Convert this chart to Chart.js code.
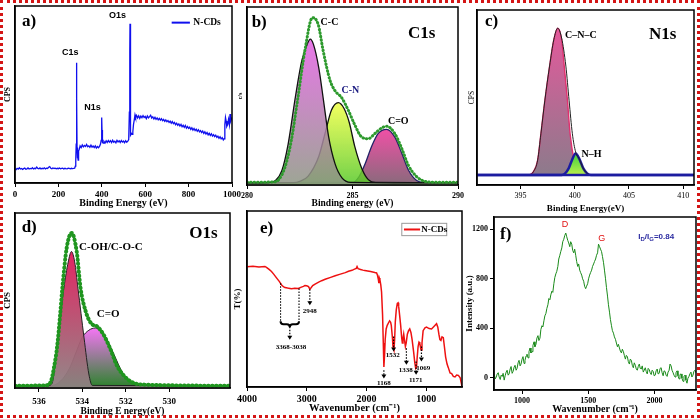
<!DOCTYPE html>
<html><head><meta charset="utf-8">
<script src="https://cdn.jsdelivr.net/npm/chart.js@4.4.1/dist/chart.umd.min.js"></script>
<style>
html,body{margin:0;padding:0;background:#fff;}
#wrap{position:relative;width:700px;height:419px;overflow:hidden;background:#fff;}
canvas{position:absolute;}
#border{position:absolute;left:0;top:0;width:700px;height:418px;box-sizing:border-box;border:3px dotted #d41515;pointer-events:none;}
</style></head><body>
<div id="wrap">
<canvas id="ca"></canvas><canvas id="cb"></canvas><canvas id="cc"></canvas>
<canvas id="cd"></canvas><canvas id="ce"></canvas><canvas id="cf"></canvas>
<div id="border"></div>
</div>
<script>
// ================= DATA =================
// a) XPS survey
const aTicks = [0, 200, 400, 600, 800, 1000];
const aX = [0,5,10,15,20,25,30,35,40,45,50,55,60,65,70,75,80,85,90,95,100,105,110,115,120,125,130,135,140,145,150,155,160,165,170,175,180,185,190,195,200,205,210,215,220,225,230,235,240,245,250,255,260,265,270,275,278,280,282,283,284,285,286,287,289,291,293,296,300,305,310,315,320,325,330,335,340,345,350,355,360,365,370,375,380,385,390,394,397,399,400,401,403,406,410,415,420,425,430,435,440,445,450,455,460,465,470,475,480,485,490,495,500,505,510,515,520,524,527,529,530,531,532,534,537,540,543,546,550,553,556,560,565,570,575,580,585,590,595,600,605,610,615,620,625,630,635,640,645,650,655,660,665,670,675,680,685,690,695,700,705,710,715,720,725,730,735,740,745,750,755,760,765,770,775,780,785,790,795,800,805,810,815,820,825,830,835,840,845,850,855,860,865,870,875,880,885,890,895,900,905,910,915,920,925,930,935,940,945,950,955,960,964,967,970,973,976,980,984,988,991,994,997,1000];
const aY = [8.0,7.6,8.3,7.8,8.6,7.9,8.2,7.7,8.1,8.4,7.8,8.0,8.5,7.9,8.2,8.0,8.6,7.9,8.3,8.1,9.0,8.2,8.0,8.5,7.9,8.3,8.1,8.6,8.0,8.4,8.2,8.9,9.3,8.3,8.1,8.5,8.2,8.4,8.0,8.3,8.1,8.5,8.0,8.2,8.4,7.9,8.3,8.1,8.0,8.4,8.2,8.0,8.3,8.1,8.2,8.4,9.5,13,22,45,68,48,20,14,16,13,18,19,21,20,21.5,20.4,21.2,20.6,21.8,20.5,21.0,20.2,21.4,20.3,20.9,20.0,21.0,19.8,20.6,19.9,20.8,22,24,30,37,30,23,22.5,23.5,22.6,23.8,22.9,24.0,23.1,23.9,22.8,24.2,23.0,23.6,22.7,24.1,23.2,23.8,22.9,24.0,23.1,23.7,22.8,23.9,23.0,23.6,24.5,40,75,90,70,40,27,28,27.5,29,33,36,38.5,37,38.2,36.8,38.0,36.5,37.8,36.9,38.1,37.0,37.6,36.4,37.9,36.8,37.5,38.3,36.7,37.4,36.2,37.1,36.0,36.8,35.7,36.5,35.5,36.3,35.2,35.9,34.8,35.6,34.6,35.3,34.2,34.9,33.8,34.7,33.5,34.2,32.9,33.8,32.6,33.4,32.2,33.1,31.8,32.6,31.4,32.5,31.0,31.9,30.8,31.5,30.3,31.2,29.9,30.8,29.6,30.4,29.2,30.1,28.9,29.6,28.5,29.4,28.0,28.9,27.7,28.5,27.2,28.1,26.9,27.8,26.5,27.3,26.2,27.0,25.8,26.5,25.3,26.1,24.9,25.6,24.3,25.0,33,37,35,32,33,36,33,39,35,36,37];

// b) C1s
const bTicks = [280, 285, 290];
const bCCx = [280,281.0,281.35,281.65,281.95,282.3,282.6,282.85,283.0,283.15,283.4,283.62,283.87,284.17,284.5,284.9,290];
const bCCy = [1.2,1.3,2.5,8,23,50,70,79,82,79,66,48,27,12,4,1.5,1.2];
const bCNx = [280,282.2,282.5,282.9,283.4,283.7,284.0,284.33,284.6,284.85,285.1,285.45,285.75,286.1,290];
const bCNy = [1.2,1.3,2,5,16,29,42,46.3,43,35,22,9,3,1.4,1.2];
const bCOx = [280,285.0,285.3,285.6,285.9,286.22,286.62,287.0,287.33,287.65,288.04,288.4,290];
const bCOy = [1.2,1.4,4.5,12,21.5,29,31.3,27,18,8.4,2.5,1.4,1.2];
const bEnvX = [280,281.3,281.5,281.8,282.1,282.4,282.75,283.1,283.38,283.6,283.93,284.17,284.49,284.8,285.1,285.43,285.75,286.07,286.38,286.62,287.0,287.33,287.65,288.04,288.44,289,290];
const bEnvY = [1.5,1.8,3,10,25,48,76,94,90,76,59,53,49,42,34,27,26,29,32,33,29,20.6,11,4.7,2,1.5,1.5];

// c) N1s
const cTicks = [395, 400, 405, 410];
const cCNCx = [391,395.8,396.2,396.59,396.89,397.25,397.69,398.08,398.44,398.8,399.04,399.34,399.58,399.94,400.24,400.6,411];
const cCNCy = [0,0,2,9,25,45,66,82,89,82,66,45,25,9,2,0,0];
const cNHx = [391,398.8,399.1,399.45,399.75,400.09,400.45,400.8,401.15,401.5,411];
const cNHy = [0,0,0.8,4,9,13,9.5,4,1,0,0];
const cEnvX = [391,395.8,396.2,396.59,396.89,397.25,397.69,398.08,398.44,398.8,399.19,399.49,399.79,400.09,400.45,400.8,401.15,401.5,411];
const cEnvY = [0,0,2,9,25,45,66,82,89,83,66,45,25,14,9.5,4,1,0,0];
const cBaseX = [391, 411];
const cBaseY = [0, 0];

// d) O1s
const dTicks = [536, 534, 532, 530];
const dCOHx = [537.1,535.6,535.4,535.13,534.85,534.65,534.5,534.35,534.2,533.92,533.7,533.54,527.2];
const dCOHy = [1.3,1.3,2.5,28.6,57,72,78,72,57,28.6,8,1.5,1.3];
const dCOx = [537.1,535.4,535.0,534.6,534.3,534.0,533.7,533.4,533.1,532.8,532.5,532.2,531.9,531.6,531.3,527.2];
const dCOy = [1.3,1.5,4,11,20,29,33,34.3,32,26,18,10,5,2.5,1.5,1.3];
const dEnvX = [537.1,535.7,535.46,535.3,535.15,535.0,534.92,534.72,534.49,534.26,534.08,533.85,533.6,533.3,533.0,532.7,532.4,532.08,531.77,531.3,527.2];
const dEnvY = [1.3,1.5,3.4,12,24.7,45,57,80,88.6,78,57,44,37,35,30,22,12.6,7,3.7,2,1.3];

// e) FTIR
const eTicks = [4000, 3000, 2000, 1000];
const eX = [4000,3900,3800,3700,3674,3630,3590,3550,3506,3460,3420,3390,3365,3320,3280,3253,3200,3140,3100,3056,3030,3000,2970,2948,2927,2900,2860,2800,2750,2691,2600,2523,2450,2354,2300,2242,2200,2170,2157,2140,2100,2060,2028,1980,1930,1860,1830,1815,1800,1792,1785,1775,1760,1747,1730,1718,1708,1697,1686,1670,1652,1630,1612,1595,1584,1565,1556,1539,1528,1517,1500,1483,1470,1461,1445,1427,1410,1399,1388,1376,1360,1348,1335,1315,1295,1275,1255,1236,1210,1191,1175,1163,1150,1135,1120,1107,1095,1085,1070,1051,1020,994,950,910,870,826,805,787,770,753,735,713,695,674,650,629,600,573,545,517,490,461,430,410,400];
const eY = [68.3,68.6,68.2,68.5,68,66.8,65.6,64,62,60,58,57,56.5,56.2,56,55.8,56.1,56,56.6,57.2,57.6,57.5,57,55.6,56.4,57.6,58.5,59.6,60.4,61.2,62.3,63.2,64,65,65.8,66.3,67,67.4,68.4,67.2,66.8,66.4,66.2,65.9,65.6,65,64.8,63.5,61,59,62,61,58,54,41,25,11.4,18,27,33,35,36.5,37.6,36.8,35,28,23,21,27,37,44,47.5,47.8,46,41,35,28,25,27.5,30,26,23,25,30,32,33,31,27,20,14,10.5,11,17,23,25.5,25,22.5,21,25,32,33.6,34,33.2,33,34.4,36,34,30,27,26.5,28.5,28,23,17,13,11,8,7.6,6,5.7,6.8,6.6,5.2,2,0];
const eArrowX = [2948, 1708, 1545, 1331, 1169, 1079];
const eArrowTop = [55.6, 9.5, 28.7, 22, 14.5, 23];
const eArrowBot = [46.5, 4.8, 20.2, 12.6, 6.9, 14.5];
const eArrowLabel = ['2948', '1168', '1532', '1338', '1171', '1069'];
const eArrowLabelX = [2948, 1708, 1560, 1340, 1175, 1050];
const eArrowLabelY = [43.1, 2.3, 17.9, 9.4, 4.1, 10.7];
const eBraceX = [3438, 3129];
const eBraceTopY = [59, 56];
const eBraceY = 37.3;

// f) Raman
const fTicksX = [1000, 1500, 2000];
const fTicksY = [0, 400, 800, 1200];
const fX = [790,797,805,812,820,827,835,842,850,857,865,872,880,887,895,902,910,917,925,932,940,947,955,962,970,977,985,992,1000,1007,1015,1022,1030,1037,1045,1052,1060,1067,1075,1082,1090,1097,1105,1112,1120,1127,1135,1142,1150,1157,1165,1172,1180,1187,1195,1202,1210,1217,1225,1232,1240,1247,1255,1262,1270,1277,1285,1292,1300,1307,1315,1322,1330,1337,1345,1352,1360,1367,1375,1382,1390,1397,1405,1412,1420,1427,1435,1442,1450,1457,1465,1472,1480,1487,1495,1502,1510,1517,1525,1532,1540,1547,1555,1562,1570,1577,1585,1592,1600,1607,1615,1622,1630,1637,1645,1652,1660,1667,1675,1682,1690,1697,1705,1712,1720,1727,1735,1742,1750,1757,1765,1772,1780,1787,1795,1802,1810,1817,1825,1832,1840,1847,1855,1862,1870,1877,1885,1892,1900,1907,1915,1922,1930,1937,1945,1952,1960,1967,1975,1982,1990,1997,2005,2012,2020,2027,2035,2042,2050,2057,2065,2072,2080,2087,2095,2102,2110,2117,2125,2132,2140,2147,2155,2162,2170,2177,2185,2192,2200,2207,2215,2222,2230,2237,2245,2252,2260,2267,2275,2282,2290,2297,2305,2312];
const fY = [25,-10,5,30,40,5,-15,20,10,35,-20,15,45,60,20,30,70,90,35,50,85,100,60,75,120,140,95,110,150,170,115,140,175,190,160,210,240,200,210,260,290,250,270,320,340,300,320,390,420,410,460,500,520,560,590,640,630,670,700,690,760,810,840,860,900,960,990,1020,1050,1100,1120,1150,1170,1140,1110,1090,1060,1100,1080,1030,1010,1040,990,940,900,920,870,850,830,800,780,740,720,740,760,800,830,850,870,900,920,940,960,990,1010,1080,1060,1040,1020,980,930,870,800,730,660,590,530,470,420,380,360,330,310,280,250,270,240,215,200,230,210,180,150,180,170,130,110,150,140,100,80,120,100,70,60,90,110,75,70,95,45,60,80,50,30,75,65,40,25,60,50,15,20,55,70,30,35,75,80,40,15,55,50,20,10,45,60,110,95,60,40,20,5,40,55,15,-10,25,30,-5,-30,10,20,-20,-45,-5,10,30,45,5,20,50,60,40];

// ================= HELPERS =================
const SERIF = '"Liberation Serif","Times New Roman",serif';
const SANS = '"Liberation Sans",Arial,sans-serif';
const pts = (xs, ys) => xs.map((x, i) => ({x: x, y: ys[i]}));
const sf = (size, bold) => ({family: SERIF, size: size, weight: bold ? 'bold' : 'normal'});

function grad(top, bottom, vTop) {
  return (c) => {
    const ch = c.chart, a = ch.chartArea;
    if (!a) return top;
    const yt = ch.scales.y.getPixelForValue(vTop);
    const g = ch.ctx.createLinearGradient(0, yt, 0, a.bottom);
    g.addColorStop(0, top); g.addColorStop(1, bottom);
    return g;
  };
}

const framePlugin = {
  id: 'frame',
  afterDatasetsDraw(chart) {
    const ctx = chart.ctx, a = chart.chartArea;
    ctx.save(); ctx.strokeStyle = '#000'; ctx.lineWidth = 1.5;
    ctx.strokeRect(a.left, a.top, a.right - a.left, a.bottom - a.top);
    ctx.restore();
  }
};

const notesPlugin = {
  id: 'notes',
  afterDraw(chart, args, opts) {
    const ctx = chart.ctx, a = chart.chartArea, sx = chart.scales.x, sy = chart.scales.y;
    const X = (fx, x) => fx !== undefined ? a.left + fx * (a.right - a.left) : sx.getPixelForValue(x);
    const Y = (fy, y) => fy !== undefined ? a.top + fy * (a.bottom - a.top) : sy.getPixelForValue(y);
    ctx.save();
    for (const it of (opts.items || [])) {
      if (it.t === 'text') {
        ctx.font = it.font; ctx.fillStyle = it.color || '#000';
        ctx.textAlign = it.align || 'center'; ctx.textBaseline = 'middle';
        ctx.fillText(it.s, X(it.fx, it.x), Y(it.fy, it.y));
      } else if (it.t === 'rich') {
        let x = X(it.fx, it.x); const y = Y(it.fy, it.y);
        ctx.textAlign = 'left'; ctx.textBaseline = 'middle'; ctx.fillStyle = it.color;
        for (const sg of it.segs) {
          ctx.font = sg.sub ? it.subFont : it.font;
          ctx.fillText(sg.s, x, y + (sg.sub ? it.subShift : 0));
          x += ctx.measureText(sg.s).width;
        }
      } else if (it.t === 'seg') {
        ctx.strokeStyle = it.color; ctx.lineWidth = it.w; ctx.setLineDash(it.dash || []);
        ctx.beginPath();
        ctx.moveTo(X(it.fx1, it.x1), Y(it.fy1, it.y1));
        ctx.lineTo(X(it.fx2, it.x2), Y(it.fy2, it.y2));
        ctx.stroke(); ctx.setLineDash([]);
      } else if (it.t === 'box') {
        const x1 = X(it.fx1), x2 = X(it.fx2), y1 = Y(it.fy1), y2 = Y(it.fy2);
        ctx.strokeStyle = it.color; ctx.lineWidth = it.w;
        ctx.strokeRect(x1, y1, x2 - x1, y2 - y1);
      } else if (it.t === 'arrow') {
        const px = X(undefined, it.x), p1 = Y(undefined, it.y1), p2 = Y(undefined, it.y2);
        ctx.strokeStyle = '#000'; ctx.fillStyle = '#000'; ctx.lineWidth = 1.2; ctx.setLineDash([1.5, 1.5]);
        ctx.beginPath(); ctx.moveTo(px, p1); ctx.lineTo(px, p2 - 3); ctx.stroke(); ctx.setLineDash([]);
        ctx.beginPath(); ctx.moveTo(px - 2.5, p2 - 4); ctx.lineTo(px + 2.5, p2 - 4); ctx.lineTo(px, p2); ctx.closePath(); ctx.fill();
      } else if (it.t === 'brace') {
        const x1 = X(undefined, it.x1), x2 = X(undefined, it.x2), y = Y(undefined, it.y);
        const xm = (x1 + x2) / 2, d = 6, r = 3;
        ctx.strokeStyle = '#000'; ctx.lineWidth = 2; ctx.setLineDash([]);
        ctx.beginPath();
        ctx.moveTo(x1, y);
        ctx.quadraticCurveTo(x1, y + d / 2, x1 + r, y + d / 2);
        ctx.lineTo(xm - r, y + d / 2);
        ctx.quadraticCurveTo(xm, y + d / 2, xm, y + d);
        ctx.quadraticCurveTo(xm, y + d / 2, xm + r, y + d / 2);
        ctx.lineTo(x2 - r, y + d / 2);
        ctx.quadraticCurveTo(x2, y + d / 2, x2, y);
        ctx.stroke();
      }
    }
    ctx.restore();
  }
};

function panel(id, box, plot, o) {
  const cv = document.getElementById(id);
  cv.width = box.w; cv.height = box.h;
  cv.style.left = box.x + 'px'; cv.style.top = box.y + 'px';
  const yW = plot.l - box.x, xH = box.y + box.h - plot.b;
  const zero = s => { s.paddingLeft = 0; s.paddingRight = 0; s.paddingTop = 0; s.paddingBottom = 0; };
  const yTicks = o.y.ticks;
  return new Chart(cv, {
    type: 'line',
    data: {datasets: o.datasets},
    plugins: [framePlugin, notesPlugin],
    options: {
      responsive: false, animation: false, devicePixelRatio: 1,
      layout: {padding: {top: plot.t - box.y, right: box.x + box.w - plot.r, left: 0, bottom: 0}},
      plugins: {legend: {display: false}, tooltip: {enabled: false}, notes: {items: o.notes}},
      elements: {point: {radius: 0}},
      scales: {
        x: {
          type: 'linear', position: 'bottom', min: o.x.min, max: o.x.max, reverse: !!o.x.reverse,
          afterBuildTicks: s => { s.ticks = o.x.ticks.map(v => ({value: v})); },
          afterFit: s => { s.height = xH; zero(s); },
          grid: {drawOnChartArea: false, drawTicks: true, tickLength: 4, color: '#000', lineWidth: 1},
          border: {display: true, color: '#000', width: 1.5},
          ticks: {font: o.x.tickFont, color: '#000', padding: o.x.tickPad !== undefined ? o.x.tickPad : 2, maxRotation: 0, autoSkip: false, callback: v => String(v)},
          title: {display: true, text: o.x.title, font: o.x.titleFont, color: '#000', padding: {top: 0, bottom: o.x.titlePad}}
        },
        y: {
          type: 'linear', position: 'left', min: o.y.min, max: o.y.max,
          afterBuildTicks: s => { if (yTicks) s.ticks = yTicks.map(v => ({value: v})); },
          afterFit: s => { s.width = yW; zero(s); },
          grid: {drawOnChartArea: false, drawTicks: !!yTicks, tickLength: 4, color: '#000', lineWidth: 1},
          border: {display: true, color: '#000', width: 1.5},
          ticks: {display: !!yTicks, font: o.y.tickFont || sf(8, true), color: '#000', padding: 2, callback: v => String(v)},
          title: {display: true, text: o.y.title, font: o.y.titleFont, color: '#000', padding: {top: o.y.titlePad, bottom: 0}}
        }
      }
    }
  });
}

const smooth = {cubicInterpolationMode: 'monotone', pointRadius: 0};

// ================= PANEL a =================
panel('ca', {x: 0, y: 0, w: 242, h: 212}, {l: 15, t: 6, r: 232, b: 183}, {
  x: {min: 0, max: 1000, ticks: aTicks, tickFont: sf(9, true), title: 'Binding Energy (eV)', titleFont: sf(10, true), titlePad: 2.5},
  y: {min: 0, max: 100, title: 'CPS', titleFont: sf(8, true), titlePad: 3},
  datasets: [{data: pts(aX, aY), borderColor: '#1010ee', borderWidth: 1.3, pointRadius: 0, tension: 0, fill: false}],
  notes: [
    {t: 'text', fx: 0.032, fy: 0.09, s: 'a)', font: 'bold 17px ' + SERIF, align: 'left'},
    {t: 'text', fx: 0.472, fy: 0.051, s: 'O1s', font: 'bold 9px ' + SANS},
    {t: 'text', fx: 0.255, fy: 0.264, s: 'C1s', font: 'bold 9px ' + SANS},
    {t: 'text', fx: 0.357, fy: 0.572, s: 'N1s', font: 'bold 9px ' + SANS},
    {t: 'seg', fx1: 0.722, fy1: 0.094, fx2: 0.806, fy2: 0.094, color: '#1010ee', w: 2},
    {t: 'text', fx: 0.822, fy: 0.094, s: 'N-CDs', font: 'bold 9.5px ' + SERIF, align: 'left'}
  ]
});

// ================= PANEL b =================
panel('cb', {x: 237, y: 0, w: 233, h: 212}, {l: 247, t: 7, r: 458, b: 185}, {
  x: {min: 280, max: 290, ticks: bTicks, tickFont: sf(8, true), title: 'Binding energy (eV)', titleFont: sf(9.5, true), titlePad: 2.3},
  y: {min: 0, max: 100, title: 'c/s', titleFont: sf(6, true), titlePad: 0},
  datasets: [
    Object.assign({data: pts(bEnvX, bEnvY), borderColor: '#2e9a2e', borderWidth: 3, borderDash: [0.5, 3], borderCapStyle: 'round', fill: false}, smooth),
    Object.assign({data: pts(bCCx, bCCy), borderColor: '#111', borderWidth: 1.3, fill: 'origin', backgroundColor: grad('rgba(228,95,228,0.85)', 'rgba(140,150,130,0.85)', 82)}, smooth),
    Object.assign({data: pts(bCNx, bCNy), borderColor: '#111', borderWidth: 1.3, fill: 'origin', backgroundColor: grad('rgba(238,255,55,0.8)', 'rgba(85,200,40,0.85)', 46)}, smooth),
    Object.assign({data: pts(bCOx, bCOy), borderColor: '#222266', borderWidth: 1.3, fill: 'origin', backgroundColor: grad('rgba(236,50,150,0.85)', 'rgba(115,80,100,0.85)', 31)}, smooth)
  ],
  notes: [
    {t: 'text', fx: 0.022, fy: 0.087, s: 'b)', font: 'bold 17px ' + SERIF, align: 'left'},
    {t: 'text', fx: 0.828, fy: 0.148, s: 'C1s', font: 'bold 17px ' + SERIF},
    {t: 'text', fx: 0.391, fy: 0.088, s: 'C-C', font: 'bold 10px ' + SERIF},
    {t: 'text', fx: 0.49, fy: 0.47, s: 'C-N', font: 'bold 10px ' + SERIF, color: '#1a1a80'},
    {t: 'text', fx: 0.717, fy: 0.644, s: 'C=O', font: 'bold 10px ' + SERIF}
  ]
});

// ================= PANEL c =================
panel('cc', {x: 468, y: 0, w: 232, h: 215}, {l: 477, t: 10, r: 694, b: 185}, {
  x: {min: 391, max: 411, ticks: cTicks, tickFont: sf(8, false), title: 'Binding Energy(eV)', titleFont: sf(9, true), titlePad: 1.1},
  y: {min: -6.06, max: 100, title: 'CPS', titleFont: sf(7.5, false), titlePad: 0},
  datasets: [
    {data: pts(cBaseX, cBaseY), borderColor: '#1c1ca0', borderWidth: 2.5, pointRadius: 0, fill: false},
    Object.assign({data: pts(cEnvX, cEnvY), borderColor: '#222', borderWidth: 1, fill: false}, smooth),
    Object.assign({data: pts(cNHx, cNHy), borderColor: '#1c1ca0', borderWidth: 2.5, fill: 'origin', backgroundColor: grad('#3fcf3f', '#f5ff50', 13)}, smooth),
    Object.assign({data: pts(cCNCx, cCNCy), borderColor: '#e0306e', borderWidth: 1.4, fill: 'origin', backgroundColor: grad('rgba(226,80,150,0.95)', 'rgba(128,118,132,0.95)', 89)}, smooth)
  ],
  notes: [
    {t: 'text', fx: 0.037, fy: 0.066, s: 'c)', font: 'bold 17px ' + SERIF, align: 'left'},
    {t: 'text', fx: 0.856, fy: 0.143, s: 'N1s', font: 'bold 17px ' + SERIF},
    {t: 'text', fx: 0.406, fy: 0.143, s: 'C–N–C', font: 'bold 10px ' + SERIF, align: 'left'},
    {t: 'text', fx: 0.482, fy: 0.823, s: 'N–H', font: 'bold 10px ' + SERIF, align: 'left'}
  ]
});

// ================= PANEL d =================
panel('cd', {x: 0, y: 207, w: 240, h: 212}, {l: 15, t: 213, r: 230, b: 388}, {
  x: {min: 527.2, max: 537.1, reverse: true, ticks: dTicks, tickFont: sf(9, true), tickPad: 4.5, title: 'Binding E nergy(eV)', titleFont: sf(9.5, true), titlePad: 1.3},
  y: {min: 0, max: 100, title: 'CPS', titleFont: sf(9, true), titlePad: 2.6},
  datasets: [
    Object.assign({data: pts(dEnvX, dEnvY), borderColor: '#1f951f', borderWidth: 4, borderDash: [0.5, 3.5], borderCapStyle: 'round', fill: false}, smooth),
    Object.assign({data: pts(dCOHx, dCOHy), borderColor: '#222', borderWidth: 1, fill: 'origin', backgroundColor: grad('rgba(225,25,90,0.95)', 'rgba(140,130,130,0.95)', 78)}, smooth),
    Object.assign({data: pts(dCOx, dCOy), borderColor: '#222', borderWidth: 1, fill: 'origin', backgroundColor: grad('rgba(245,110,245,0.95)', 'rgba(30,125,30,0.95)', 34.3)}, smooth)
  ],
  notes: [
    {t: 'text', fx: 0.031, fy: 0.086, s: 'd)', font: 'bold 17px ' + SERIF, align: 'left'},
    {t: 'text', fx: 0.876, fy: 0.116, s: 'O1s', font: 'bold 17px ' + SERIF},
    {t: 'text', fx: 0.298, fy: 0.193, s: 'C-OH/C-O-C', font: 'bold 11px ' + SERIF, align: 'left'},
    {t: 'text', fx: 0.38, fy: 0.577, s: 'C=O', font: 'bold 11px ' + SERIF, align: 'left'}
  ]
});

// ================= PANEL e =================
const eNotes = [
  {t: 'text', fx: 0.06, fy: 0.10, s: 'e)', font: 'bold 17px ' + SERIF, align: 'left'},
  {t: 'box', fx1: 0.72, fy1: 0.07, fx2: 0.929, fy2: 0.14, color: '#999', w: 1},
  {t: 'seg', fx1: 0.73, fy1: 0.105, fx2: 0.805, fy2: 0.105, color: '#ee1111', w: 2},
  {t: 'text', fx: 0.81, fy: 0.105, s: 'N-CDs', font: 'bold 9px ' + SERIF, align: 'left'}
];
eArrowX.forEach((x, i) => {
  eNotes.push({t: 'arrow', x: x, y1: eArrowTop[i], y2: eArrowBot[i]});
  eNotes.push({t: 'text', x: eArrowLabelX[i], y: eArrowLabelY[i], s: eArrowLabel[i], font: 'bold 7px ' + SERIF});
});
eBraceX.forEach((x, i) => {
  eNotes.push({t: 'seg', x1: x, y1: eBraceTopY[i], x2: x, y2: eBraceY, color: '#000', w: 1.1, dash: [1.5, 1.5]});
});
eNotes.push({t: 'brace', x1: eBraceX[0], x2: eBraceX[1], y: eBraceY});
eNotes.push({t: 'arrow', x: (eBraceX[0] + eBraceX[1]) / 2, y1: eBraceY - 3, y2: eBraceY - 10.5});
eNotes.push({t: 'text', x: (eBraceX[0] + eBraceX[1]) / 2 - 20, y: 22.6, s: '3368-3038', font: 'bold 7px ' + SERIF});

panel('ce', {x: 232, y: 205, w: 236, h: 214}, {l: 247, t: 211, r: 462, b: 387}, {
  x: {min: 400, max: 4000, reverse: true, ticks: eTicks, tickFont: sf(10, true), title: 'Wavenumber (cm⁻¹)', titleFont: sf(10.5, true), titlePad: 4.2},
  y: {min: 0, max: 100, title: 'T(%)', titleFont: sf(9, true), titlePad: 0},
  datasets: [{data: pts(eX, eY), borderColor: '#ee1111', borderWidth: 1.5, pointRadius: 0, tension: 0, fill: false}],
  notes: eNotes
});

// ================= PANEL f =================
panel('cf', {x: 462, y: 212, w: 238, h: 207}, {l: 494, t: 217, r: 696, b: 390}, {
  x: {min: 788, max: 2313, ticks: fTicksX, tickFont: sf(8, true), title: 'Wavenumber (cm⁻¹)', titleFont: sf(10, true), titlePad: 4},
  y: {min: -100, max: 1300, ticks: fTicksY, tickFont: sf(8, true), title: 'Intensity (a.u.)', titleFont: sf(9, true), titlePad: 2.6},
  datasets: [{data: pts(fX, fY), borderColor: '#1a8a1a', borderWidth: 1, pointRadius: 0, tension: 0, fill: false}],
  notes: [
    {t: 'text', fx: 0.03, fy: 0.104, s: 'f)', font: 'bold 17px ' + SERIF, align: 'left'},
    {t: 'text', fx: 0.351, fy: 0.042, s: 'D', font: '9px ' + SANS, color: '#e01010'},
    {t: 'text', fx: 0.533, fy: 0.123, s: 'G', font: '9px ' + SANS, color: '#e01010'},
    {t: 'rich', fx: 0.714, fy: 0.114, color: '#2a2aa0', font: 'bold 8px ' + SANS, subFont: 'bold 6px ' + SANS, subShift: 2.5,
     segs: [{s: 'I'}, {s: 'D', sub: true}, {s: '/I'}, {s: 'G', sub: true}, {s: '=0.84'}]}
  ]
});
</script>
</body></html>
